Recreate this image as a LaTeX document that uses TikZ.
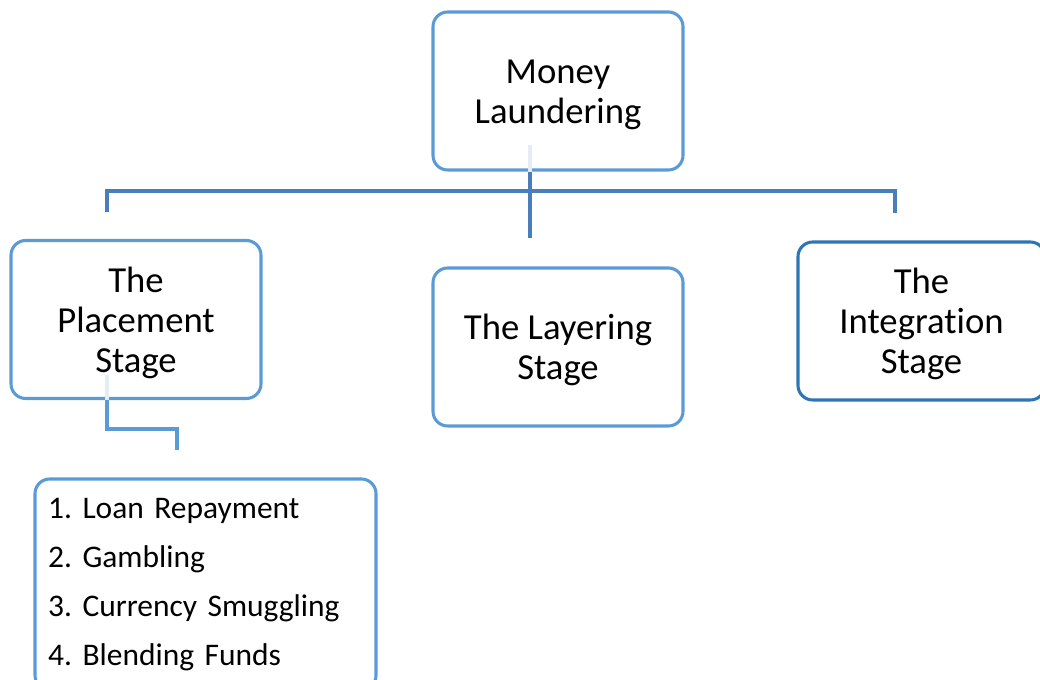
\documentclass[tikz,border=0pt]{standalone}
\usepackage{fontspec}
\setmainfont[Ligatures=NoCommon]{Carlito}
\usetikzlibrary{calc}
\definecolor{boxblue}{HTML}{5B9BD5}
\definecolor{darkbox}{HTML}{2E75B6}
\definecolor{linkblue}{HTML}{4A7EBB}
\definecolor{faintblue}{HTML}{E4ECF5}
\newcommand\firststrut{\rule{0pt}{24pt}}
\tikzset{
  stagebox/.style={draw=boxblue, line width=2.3pt, rounded corners=11pt, fill=white,
    minimum width=187.5pt, minimum height=118.5pt, align=center, inner sep=0pt,
    font=\fontsize{27.5}{30}\selectfont},
  listbox/.style={draw=boxblue, line width=2.3pt, rounded corners=11pt, fill=white,
    minimum width=255.75pt, minimum height=158.25pt, text width=236pt, align=left,
    inner xsep=9.75pt, inner ysep=0pt, font=\fontsize{23.6}{36.75}\selectfont\frenchspacing},
  link/.style={draw=linkblue, line width=2.3pt},
  sublink/.style={draw=boxblue, line width=2.3pt},
  faint/.style={draw=faintblue, line width=2.3pt}
}
\begin{document}
\begin{tikzpicture}[x=0.75pt,y=-0.75pt]
\useasboundingbox (0,0) rectangle (1040,680);
% nodes
\node[stagebox] (top) at (558,91) {\firststrut Money\\Laundering};
\node[stagebox] (place) at (136,319.5) {\firststrut The\\Placement\\Stage};
\node[stagebox] (layer) at (558,347) {\firststrut The Layering\\Stage};
\node[stagebox, draw=darkbox, minimum width=185.25pt] (integ) at (921.5,321) {\firststrut The\\Integration\\Stage};
\node[listbox] (list) at (205.5,584.5) {1.\ Loan Repayment\\2.\ Gambling\\3.\ Currency Smuggling\\4.\ Blending Funds};
% coordinates for connectors
\coordinate (tj) at (530,191);
\coordinate (lj) at (107,191);
\coordinate (rj) at (895,191);
\coordinate (pj) at (177,429);
% top connectors
\draw[faint] (tj |- 0,145) -- (tj |- top.south);
\draw[link] (tj |- top.south) -- (tj |- 0,238);
\draw[link] (lj |- 0,212) -- (lj) -- (rj) -- (rj |- 0,213);
% placement connector
\draw[faint] (lj |- 0,375) -- (lj |- place.south);
\draw[sublink] (lj |- place.south) -- (lj |- pj) -- (pj) -- (pj |- 0,450);
\end{tikzpicture}
\end{document}
